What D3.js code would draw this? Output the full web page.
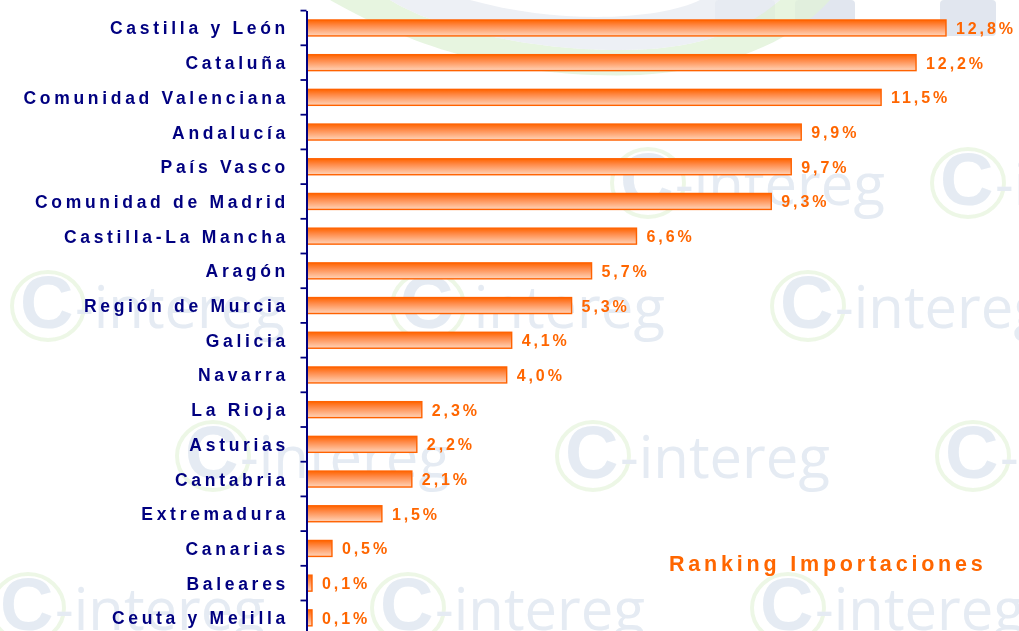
<!DOCTYPE html>
<html><head><meta charset="utf-8">
<script src="https://cdn.jsdelivr.net/npm/d3@7"></script>
<style>body{margin:0;background:#fff}svg{display:block}</style>
</head><body><svg id="c" width="1019" height="631"></svg>
<script>
const regions = ["Castilla y León","Cataluña","Comunidad Valenciana","Andalucía","País Vasco","Comunidad de Madrid","Castilla-La Mancha","Aragón","Región de Murcia","Galicia","Navarra","La Rioja","Asturias","Cantabria","Extremadura","Canarias","Baleares","Ceuta y Melilla"];
const shares = [12.8,12.2,11.5,9.9,9.7,9.3,6.6,5.7,5.3,4.1,4.0,2.3,2.2,2.1,1.5,0.5,0.1,0.1];
const valueLabels = ["12,8%","12,2%","11,5%","9,9%","9,7%","9,3%","6,6%","5,7%","5,3%","4,1%","4,0%","2,3%","2,2%","2,1%","1,5%","0,5%","0,1%","0,1%"];
const chartTitle = "Ranking Importaciones";
const watermarkText = "-intereg";

const svg = d3.select("#c");
const defs = svg.append("defs");
const g = defs.append("linearGradient").attr("id","barg").attr("x1",0).attr("y1",0).attr("x2",0).attr("y2",1);
g.append("stop").attr("offset","0%").attr("stop-color","#ff6400");
g.append("stop").attr("offset","35%").attr("stop-color","#ff8a48");
g.append("stop").attr("offset","100%").attr("stop-color","#ffd4ba");

const wm = svg.append("g").attr("opacity",0.7);
[[715,0,60,36],[795,0,60,36],[940,0,56,36]].forEach(r=>{
  wm.append("rect").attr("x",r[0]).attr("y",r[1]).attr("width",r[2]).attr("height",r[3]).attr("rx",4).attr("fill","#d4dce8");
});
wm.append("path").attr("d","M330,0 C400,40 500,80 640,75 C720,70 790,45 830,0 L780,0 C740,35 690,50 620,50 C520,50 430,25 390,0 Z").attr("fill","#d3ecc8").attr("opacity",0.8);
wm.append("path").attr("d","M390,0 C430,25 520,50 620,50 C690,50 740,35 780,0 L700,0 C660,20 560,25 470,0 Z").attr("fill","#dfe4ec").attr("opacity",0.8);
function logo(x,y){
  const lg = wm.append("g").attr("transform",`translate(${x},${y})`);
  lg.append("ellipse").attr("cx",28).attr("cy",-22).attr("rx",36).attr("ry",34).attr("fill","none").attr("stroke","#e6f4dc").attr("stroke-width",4);
  lg.append("text").attr("x",0).attr("y",0).attr("font-family","Liberation Sans, Arial, sans-serif").attr("font-weight","bold").attr("font-size",74).attr("fill","#dae3ee").text("C");
  lg.append("text").attr("x",55).attr("y",0).attr("font-family","Open Sans, Liberation Sans, sans-serif").attr("font-size",58).attr("fill","#dae3ee").text(watermarkText);
}
[[620,205],[940,205],[20,328],[400,328],[780,328],[185,478],[565,478],[945,478],[0,630],[380,630],[760,630]].forEach(p=>logo(p[0],p[1]));

const x = d3.scaleLinear().domain([0,12.8]).range([307,946]);
const y = d3.scaleBand().domain(regions).range([10.6,10.6+18*34.7]).paddingInner(0.54).paddingOuter(0.27);

svg.append("g").selectAll("rect").data(regions).join("rect")
  .attr("x",x(0)).attr("y",d=>y(d))
  .attr("width",(d,i)=>x(shares[i])-x(0)).attr("height",y.bandwidth())
  .attr("fill","url(#barg)").attr("stroke","#ff6200").attr("stroke-width",1.4);

const axis = d3.axisLeft(y).tickSize(0).tickFormat("");
const ag = svg.append("g").attr("transform",`translate(${x(0)-0.5},0)`).call(axis);
ag.select(".domain").attr("stroke","#000080").attr("stroke-width",2);
const step = y.step();
const bounds = d3.range(0,19).map(i=>10.6+i*step);
ag.selectAll("line.b").data(bounds).join("line").attr("class","b")
  .attr("x1",-6).attr("x2",0).attr("y1",d=>d).attr("y2",d=>d).attr("stroke","#000080").attr("stroke-width",1.8);

svg.append("g").selectAll("text").data(regions).join("text")
  .attr("x",289).attr("y",d=>y(d)+y.bandwidth()/2+6.5)
  .attr("text-anchor","end")
  .attr("font-family","Liberation Sans, Arial, sans-serif").attr("font-weight","bold")
  .attr("font-size",17.5).attr("letter-spacing","3.7px").attr("fill","#000080")
  .text(d=>d);

svg.append("g").selectAll("text").data(regions).join("text")
  .attr("x",(d,i)=>x(shares[i])+10).attr("y",d=>y(d)+y.bandwidth()/2+6)
  .attr("font-family","Liberation Sans, Arial, sans-serif").attr("font-weight","bold")
  .attr("font-size",16).attr("letter-spacing","2.9px").attr("fill","#ff6600")
  .text((d,i)=>valueLabels[i]);

svg.append("text").attr("x",669).attr("y",571)
  .attr("font-family","Liberation Sans, Arial, sans-serif").attr("font-weight","bold")
  .attr("font-size",21.5).attr("letter-spacing","3.8px").attr("fill","#ff6600").text(chartTitle);
</script></body></html>
